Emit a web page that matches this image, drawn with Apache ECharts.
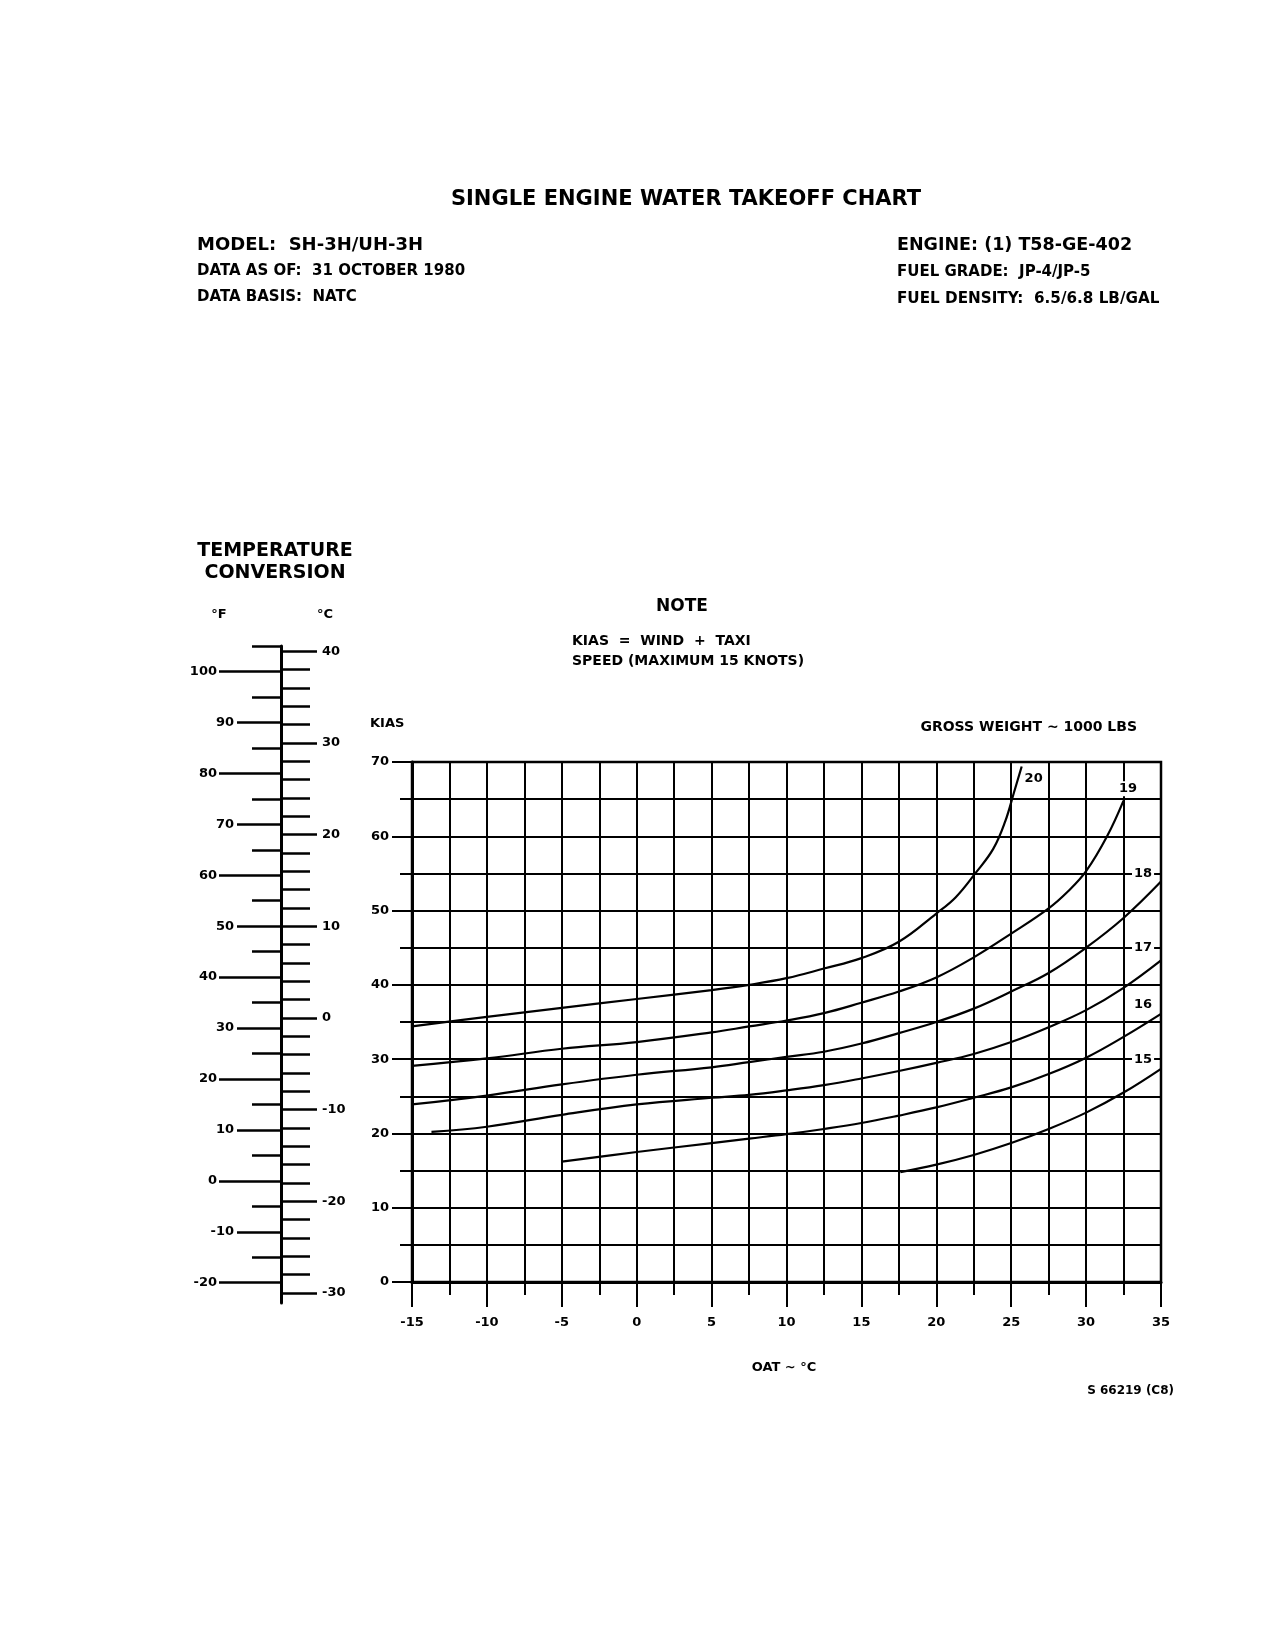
<!DOCTYPE html>
<html><head><meta charset="utf-8">
<script src="https://cdn.jsdelivr.net/npm/echarts@6/dist/echarts.min.js"></script>
<style>html,body{margin:0;padding:0;background:#fff}#c{width:1275px;height:1650px}</style>
</head><body><div id="c"></div><script>
// ---- Data (OAT degC, KIAS) ----
const gw20 = [[-15,34.4],[-10,35.7],[-5,36.9],[0,38.1],[5,39.3],[7.5,40],[10,40.9],[12.5,42.2],[15,43.6],[17.5,45.8],[20,49.6],[21.3,51.8],[22.6,55],[23.8,58.3],[24.6,62],[25.2,66],[25.7,69.4]];
const gw19 = [[-15,29.1],[-10,30.1],[-5,31.4],[0,32.3],[5,33.6],[7.5,34.4],[10,35.2],[12.5,36.2],[15,37.6],[17.5,39.1],[20,41],[22.5,43.7],[25,46.9],[27.5,50.3],[28.8,52.6],[30,55.3],[31.4,60],[32.5,64.8]];
const gw18 = [[-15,23.9],[-10,25.1],[-5,26.6],[0,27.9],[5,28.9],[7.5,29.6],[10,30.3],[12.5,31],[15,32.1],[17.5,33.5],[20,35],[22.5,36.8],[25,39.1],[27.5,41.6],[30,45],[32.5,49],[35,53.9]];
const gw17 = [[-13.7,20.2],[-10,20.9],[-5,22.5],[0,23.9],[5,24.8],[7.5,25.2],[10,25.8],[12.5,26.5],[15,27.4],[17.5,28.4],[20,29.5],[22.5,30.7],[25,32.3],[27.5,34.3],[30,36.6],[32.5,39.6],[35,43.3]];
const gw16 = [[-5,16.2],[0,17.5],[5,18.7],[7.5,19.3],[10,19.9],[12.5,20.6],[15,21.4],[17.5,22.4],[20,23.5],[22.5,24.8],[25,26.2],[27.5,28],[30,30.2],[32.5,33],[35,36.1]];
const gw15 = [[17.6,14.8],[20,15.8],[22.5,17.1],[25,18.7],[27.5,20.6],[30,22.8],[32.5,25.5],[35,28.7]];
const curveNames = ['20','19','18','17','16','15'];
const curveLabelPos = [[26.5,67.8],[32.8,66.4],[33.8,55],[33.8,45],[33.8,37.4],[33.8,30]];

// ---- Axis ranges / ticks ----
const oatRange = [-15, 35];
const kiasRange = [0, 70];
const celsiusRange = [-31.1, 40.56];
const celsiusMajor = [-30,-20,-10,0,10,20,30,40];
const celsiusMinor = [-28,-26,-24,-22,-18,-16,-14,-12,-8,-6,-4,-2,2,4,6,8,12,14,16,18,22,24,26,28,32,34,36,38];
const fahrenheitLong = [-20,0,20,40,60,80,100];
const fahrenheitShort = [-10,10,30,50,70,90];
const fahrenheitMinor = [-15,-5,5,15,25,35,45,55,65,75,85,95,105];

const FONT = '"DejaVu Sans", sans-serif';
const fahrenheitRange = celsiusRange.map(c => c * 9 / 5 + 32);

const chart = echarts.init(document.getElementById('c'), null, {renderer: 'canvas'});
const black = '#000';
const lbl = {color: black, fontFamily: FONT, fontWeight: 'bold', fontSize: 13};

function convAxis(pos, range, ticks, len, labels, margin, extra) {
  return Object.assign({
    type: 'value', gridIndex: 1, position: pos, min: range[0], max: range[1],
    axisLine: {show: false}, splitLine: {show: false},
    axisTick: {show: true, customValues: ticks, length: len, lineStyle: {color: black, width: 2.5}},
    axisLabel: labels ? {show: true, customValues: labels, margin: margin, color: black, fontFamily: FONT, fontWeight: 'bold', fontSize: 13} : {show: false}
  }, extra || {});
}

function txt(x, y, text, size, align, weight) {
  return {type: 'text', x: x, y: y, z: 100, style: {text: text, fill: black, font: (weight || 'bold') + ' ' + size + 'px ' + FONT, textAlign: align || 'left', textVerticalAlign: 'middle'}};
}

const series = [gw20, gw19, gw18, gw17, gw16, gw15].map((d, i) => ({
  name: curveNames[i], type: 'line', xAxisIndex: 0, yAxisIndex: 0, data: d,
  smooth: 0.4, showSymbol: false, symbol: 'none',
  lineStyle: {color: black, width: 2.2}, z: 5, silent: true
}));
series.push({
  type: 'scatter', xAxisIndex: 0, yAxisIndex: 0, symbolSize: 0, z: 10, silent: true,
  itemStyle: {color: black},
  data: curveLabelPos.map((p, i) => [p[0], p[1], curveNames[i]]),
  label: {show: true, position: 'inside', formatter: p => p.data[2], backgroundColor: '#fff', padding: [1, 2],
    color: black, textBorderWidth: 0, opacity: 1, fontFamily: FONT, fontWeight: 'bold', fontSize: 13}
});

chart.setOption({
  backgroundColor: '#fff',
  animation: false,
  grid: [
    {left: 412, top: 762, width: 749, height: 520, show: true, borderColor: black, borderWidth: 2.5, backgroundColor: 'transparent'},
    {left: 281, top: 646, width: 1, height: 657, show: false}
  ],
  xAxis: [
    {type: 'value', gridIndex: 0, min: oatRange[0], max: oatRange[1], interval: 5, position: 'bottom',
      axisLine: {show: true, onZero: false, lineStyle: {color: black, width: 3}},
      axisTick: {show: true, length: 25, lineStyle: {color: black, width: 2}},
      axisLabel: {show: true, margin: 34, ...lbl}, splitLine: {show: false}},
    {type: 'value', gridIndex: 0, min: oatRange[0], max: oatRange[1], interval: 2.5, position: 'bottom',
      axisLine: {show: false, onZero: false},
      axisTick: {show: true, length: 13, lineStyle: {color: black, width: 2}},
      axisLabel: {show: false}, splitLine: {show: true, lineStyle: {color: black, width: 2}}},
    {type: 'value', gridIndex: 1, min: 0, max: 1, show: false}
  ],
  yAxis: [
    {type: 'value', gridIndex: 0, min: kiasRange[0], max: kiasRange[1], interval: 10, position: 'left',
      axisLine: {show: true, onZero: false, lineStyle: {color: black, width: 3}},
      axisTick: {show: true, length: 20, lineStyle: {color: black, width: 2}},
      axisLabel: {show: true, margin: 23, ...lbl}, splitLine: {show: false}},
    {type: 'value', gridIndex: 0, min: kiasRange[0], max: kiasRange[1], interval: 5, position: 'left',
      axisLine: {show: false, onZero: false},
      axisTick: {show: true, length: 12, lineStyle: {color: black, width: 2}},
      axisLabel: {show: false}, splitLine: {show: true, lineStyle: {color: black, width: 2}}},
    convAxis('left', fahrenheitRange, fahrenheitLong, 62, fahrenheitLong, 64,
      {axisLine: {show: true, onZero: false, lineStyle: {color: black, width: 3}}}),
    convAxis('left', fahrenheitRange, fahrenheitShort, 44, fahrenheitShort, 47),
    convAxis('left', fahrenheitRange, fahrenheitMinor, 29, null, 0),
    convAxis('right', celsiusRange, celsiusMajor, 35, celsiusMajor, 40),
    convAxis('right', celsiusRange, celsiusMinor, 28, null, 0)
  ],
  series: series,
  graphic: [
    txt(686, 200, 'SINGLE ENGINE WATER TAKEOFF CHART', 21, 'center'),
    txt(197, 245, 'MODEL:  SH-3H/UH-3H', 18),
    txt(197, 271, 'DATA AS OF:  31 OCTOBER 1980', 15),
    txt(197, 297, 'DATA BASIS:  NATC', 15),
    txt(897, 245, 'ENGINE: (1) T58-GE-402', 17.5),
    txt(897, 272, 'FUEL GRADE:  JP-4/JP-5', 15),
    txt(897, 299, 'FUEL DENSITY:  6.5/6.8 LB/GAL', 15.2),
    txt(275, 551, 'TEMPERATURE', 19, 'center'),
    txt(275, 573, 'CONVERSION', 19, 'center'),
    txt(219, 615, '°F', 13, 'center'),
    txt(325, 615, '°C', 13, 'center'),
    txt(682, 607, 'NOTE', 17, 'center'),
    txt(572, 641, 'KIAS  =  WIND  +  TAXI', 14),
    txt(572, 661, 'SPEED (MAXIMUM 15 KNOTS)', 14),
    txt(370, 724, 'KIAS', 13),
    txt(1137, 727, 'GROSS WEIGHT ~ 1000 LBS', 14, 'right'),
    txt(784, 1368, 'OAT ~ °C', 13, 'center'),
    txt(1174, 1391, 'S 66219 (C8)', 12, 'right')
  ]
});
</script></body></html>
